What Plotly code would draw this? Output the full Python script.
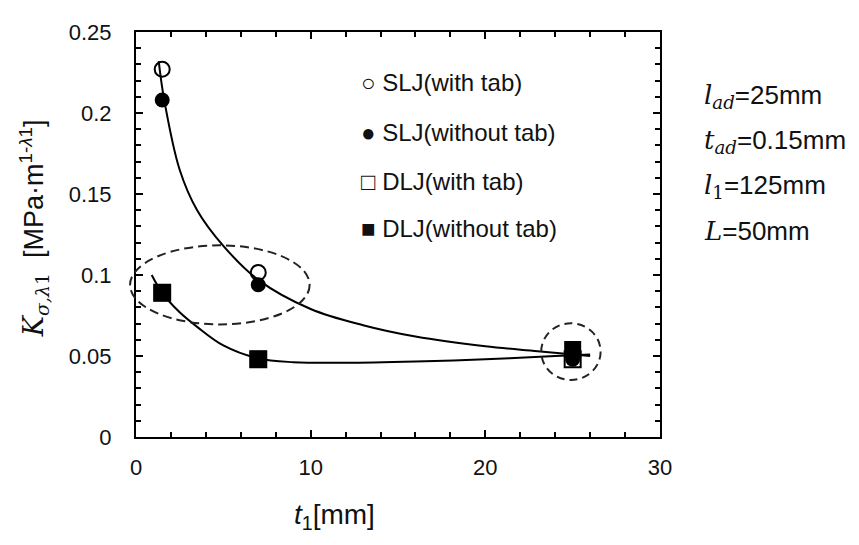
import plotly.graph_objects as go

# ---- data ----
t1 = [1.5, 7, 25]
slj_with_tab = [0.227, 0.1015, 0.049]
slj_without_tab = [0.208, 0.094, 0.048]
dlj_with_tab = [0.089, 0.048, 0.048]
dlj_without_tab = [0.089, 0.048, 0.054]

# fitted trend curves
slj_curve_x = [1.3, 1.6, 2.5, 3.5, 5, 7, 10, 13, 16, 20, 23, 26]
slj_curve_y = [0.232, 0.209, 0.165, 0.140, 0.118, 0.097, 0.079, 0.069, 0.062, 0.056, 0.053, 0.050]
dlj_curve_x = [0.9, 1.5, 2.5, 3.5, 5, 7, 9, 12, 16, 20, 24, 26]
dlj_curve_y = [0.100, 0.089, 0.077, 0.068, 0.0565, 0.0485, 0.0462, 0.0458, 0.0466, 0.048, 0.050, 0.051]

legend_labels = ["○ SLJ(with tab)", "● SLJ(without tab)", "□ DLJ(with tab)", "■ DLJ(without tab)"]
param_labels = [
    "<span style='font-family:DejaVu Serif'><i>l</i><sub><i>ad</i></sub></span>=25mm",
    "<span style='font-family:DejaVu Serif'><i>t</i><sub><i>ad</i></sub></span>=0.15mm",
    "<span style='font-family:DejaVu Serif'><i>l</i><sub>1</sub></span>=125mm",
    "<span style='font-family:DejaVu Serif'><i>L</i></span>=50mm",
]
x_ticks = [0, 10, 20, 30]
y_ticks = [0, 0.05, 0.1, 0.15, 0.2, 0.25]
y_tick_text = ["0", "0.05", "0.1", "0.15", "0.2", "0.25"]

SANS = "Liberation Sans, Arial, sans-serif"
INK = "#111111"

fig = go.Figure()
fig.add_trace(go.Scatter(x=slj_curve_x, y=slj_curve_y, mode="lines",
                         line=dict(color="black", width=2, shape="spline", smoothing=1.0),
                         showlegend=False, hoverinfo="skip"))
fig.add_trace(go.Scatter(x=dlj_curve_x, y=dlj_curve_y, mode="lines",
                         line=dict(color="black", width=2, shape="spline", smoothing=1.0),
                         showlegend=False, hoverinfo="skip"))
fig.add_trace(go.Scatter(x=t1, y=slj_with_tab, mode="markers", name="SLJ(with tab)",
                         marker=dict(symbol="circle-open", size=15, color="black", line=dict(width=2))))
fig.add_trace(go.Scatter(x=t1, y=dlj_with_tab, mode="markers", name="DLJ(with tab)",
                         marker=dict(symbol="square", size=16, color="white", line=dict(color="black", width=2))))
fig.add_trace(go.Scatter(x=t1, y=slj_without_tab, mode="markers", name="SLJ(without tab)",
                         marker=dict(symbol="circle", size=15, color="black")))
fig.add_trace(go.Scatter(x=t1, y=dlj_without_tab, mode="markers", name="DLJ(without tab)",
                         marker=dict(symbol="square", size=17, color="black")))

# dashed ellipses (domain coordinates so they may overhang the frame)
def dom_x(v):
    return v / 30.0
def dom_y(v):
    return v / 0.25

fig.add_shape(type="circle", xref="x domain", yref="y domain",
              x0=dom_x(-0.34), x1=dom_x(9.94), y0=dom_y(0.0695), y1=dom_y(0.1183),
              line=dict(color="#222", width=2, dash="9px,5px"))
fig.add_shape(type="circle", xref="x domain", yref="y domain",
              x0=dom_x(23.2), x1=dom_x(26.6), y0=dom_y(0.0352), y1=dom_y(0.0702),
              line=dict(color="#222", width=2, dash="8px,5px"))

# page-pixel helpers (plot area spans x 136..660, y 24..437 on the page)
def px(x):
    return (x - 136) / 524.0
def py(y):
    return (437 - y) / 413.0

legend_y = [75, 126, 176, 224]
for lab, yy in zip(legend_labels, legend_y):
    fig.add_annotation(text=lab, xref="paper", yref="paper", x=px(359), y=py(yy),
                       xanchor="left", yanchor="middle", showarrow=False,
                       font=dict(family=SANS, size=24, color=INK))

param_y = [90, 136, 182, 227]
for lab, yy in zip(param_labels, param_y):
    fig.add_annotation(text=lab, xref="paper", yref="paper", x=px(702), y=py(yy),
                       xanchor="left", yanchor="middle", showarrow=False,
                       font=dict(family=SANS, size=26, color=INK))

fig.add_annotation(text="<span style='font-family:DejaVu Serif'><i>K</i><sub><i>σ,λ</i>1</sub></span>  [MPa·m<sup>1-<i>λ</i>1</sup>]",
                   xref="paper", yref="paper", x=px(34), y=py(224),
                   textangle=-90, showarrow=False, xanchor="center", yanchor="middle",
                   font=dict(family=SANS, size=27, color=INK))
fig.add_annotation(text="<i>t</i><sub>1</sub>[mm]", xref="paper", yref="paper",
                   x=px(334), y=py(518),
                   showarrow=False, xanchor="center", yanchor="middle",
                   font=dict(family=SANS, size=28, color=INK))

axis_common = dict(showgrid=False, zeroline=False, showline=True, linecolor="black", linewidth=2,
                   mirror="ticks", ticks="inside", ticklen=7, tickwidth=1.5, tickcolor="black",
                   tickfont=dict(family=SANS, size=22, color=INK))
fig.update_xaxes(range=[0, 30], tickvals=x_ticks, ticktext=[str(v) for v in x_ticks],
                 minor=dict(dtick=2, ticks="inside", ticklen=5, tickwidth=1.5, tickcolor="black"),
                 ticklabelstandoff=10, **axis_common)
fig.update_yaxes(range=[0, 0.25], tickvals=y_ticks, ticktext=y_tick_text,
                 minor=dict(dtick=0.01, ticks="inside", ticklen=5, tickwidth=1.5, tickcolor="black"),
                 ticklabelstandoff=18, **axis_common)

# the page adds an 8px body margin, so the figure is offset by 8px on the left/top
fig.update_layout(width=851, height=537, margin=dict(l=128, r=199, t=16, b=108),
                  paper_bgcolor="white", plot_bgcolor="white", showlegend=False)

fig.write_html("out.html")
